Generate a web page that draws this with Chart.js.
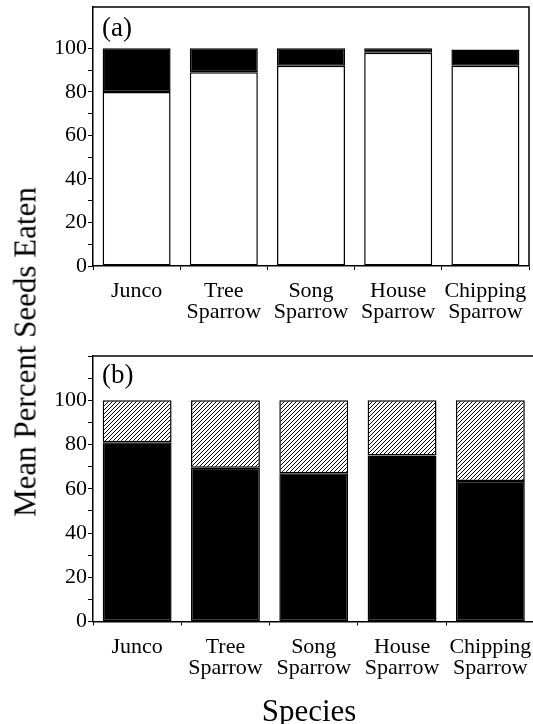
<!DOCTYPE html>
<html>
<head>
<meta charset="utf-8">
<script src="https://cdn.jsdelivr.net/npm/chart.js@4"></script>
<style>
  body { margin: 0; width: 533px; height: 724px; overflow: hidden; background: #fff; position: relative; font-family: "Liberation Serif", serif; }
  canvas { position: absolute; left: 0; }
  #chartA { top: 0; }
  #chartB { top: 330px; }
  .lbl { position: absolute; color: #000; line-height: 1; white-space: nowrap; }
  #yTitle { font-size: 31px; left: 25px; top: 352px; transform: translate(-50%, -50%) rotate(-90deg); }
  #xTitle { font-size: 31px; left: 309px; top: 710px; transform: translate(-50%, -50%); }
  #tagA { font-size: 27px; left: 102px; top: 14px; }
  #tagB { font-size: 27px; left: 102px; top: 361px; }
</style>
</head>
<body>
<canvas id="chartA" width="533" height="330"></canvas>
<canvas id="chartB" width="541" height="394"></canvas>
<div class="lbl" id="yTitle">Mean Percent Seeds Eaten</div>
<div class="lbl" id="xTitle">Species</div>
<div class="lbl" id="tagA">(a)</div>
<div class="lbl" id="tagB">(b)</div>
<script>
// Data
const species = ['Junco', ['Tree', 'Sparrow'], ['Song', 'Sparrow'], ['House', 'Sparrow'], ['Chipping', 'Sparrow']];
const panelA_lower = [80, 89, 92, 98, 92];
const panelA_upper = [20, 11, 8, 2, 7.5];
const panelB_lower = [81, 69.5, 67, 75, 63.5];
const panelB_upper = [19, 30.5, 33, 25, 36.5];

const serif = 'Liberation Serif';

// top and right edges of the plot box
const framePlugin = {
    id: 'frame',
    afterDraw(chart) {
        const { ctx, chartArea: a } = chart;
        ctx.save();
        ctx.strokeStyle = '#000';
        ctx.lineWidth = 1.5;
        ctx.beginPath();
        ctx.moveTo(a.left, a.top);
        ctx.lineTo(a.right, a.top);
        ctx.lineTo(a.right, a.bottom);
        ctx.stroke();
        ctx.restore();
    }
};

function hatchPattern() {
    const c = document.createElement('canvas');
    c.width = 4;
    c.height = 4;
    const g = c.getContext('2d');
    g.fillStyle = '#fff';
    g.fillRect(0, 0, 4, 4);
    g.strokeStyle = '#000';
    g.lineWidth = 1;
    g.beginPath();
    g.moveTo(0, 4); g.lineTo(4, 0);
    g.moveTo(-1, 1); g.lineTo(1, -1);
    g.moveTo(3, 5); g.lineTo(5, 3);
    g.stroke();
    return g.createPattern(c, 'repeat');
}

function yAxis(max) {
    return {
        stacked: true,
        min: 0,
        max: max,
        afterFit: s => { s.width = 93; s.paddingTop = 0; s.paddingBottom = 0; },
        afterBuildTicks: s => { s.ticks = s.ticks.filter(t => t.value % 10 === 0); },
        ticks: {
            stepSize: 10,
            autoSkip: false,
            padding: 1,
            color: '#000',
            font: { family: serif, size: 22 },
            callback: v => (v % 20 === 0 && v <= 100) ? v : ''
        },
        grid: { drawOnChartArea: false, drawTicks: true, tickLength: 5, color: '#000', lineWidth: 1 },
        border: { display: true, color: '#000', width: 1.5 }
    };
}

function xAxis(h) {
    return {
        stacked: true,
        afterFit: s => { s.height = h; s.paddingLeft = 0; s.paddingRight = 0; },
        ticks: {
            color: '#000',
            font: { family: serif, size: 22, lineHeight: 0.95 },
            padding: 11,
            maxRotation: 0,
            autoSkip: false
        },
        grid: { offset: true, drawOnChartArea: false, tickLength: 4, color: '#000', lineWidth: 1 },
        border: { color: '#000', width: 1.5 }
    };
}

function bar(values, fill) {
    return {
        data: values,
        backgroundColor: fill,
        borderColor: '#000',
        borderWidth: 1.5,
        borderSkipped: false,
        barPercentage: 0.78,
        categoryPercentage: 1.0
    };
}

const common = {
    responsive: false,
    animation: false,
    devicePixelRatio: 1,
    plugins: { legend: { display: false }, tooltip: { enabled: false } }
};

new Chart(document.getElementById('chartA'), {
    type: 'bar',
    data: {
        labels: species,
        datasets: [bar(panelA_lower, '#fff'), bar(panelA_upper, '#000')]
    },
    options: {
        ...common,
        layout: { padding: { top: 7, right: 4, left: 0, bottom: 0 } },
        scales: { x: xAxis(64), y: yAxis(119) }
    },
    plugins: [framePlugin]
});

new Chart(document.getElementById('chartB'), {
    type: 'bar',
    data: {
        labels: species,
        datasets: [bar(panelB_lower, '#000'), bar(panelB_upper, hatchPattern())]
    },
    options: {
        ...common,
        layout: { padding: { top: 26, right: 6.5, left: 0, bottom: 0 } },
        scales: { x: xAxis(102.5), y: yAxis(120) }
    },
    plugins: [framePlugin]
});
</script>
</body>
</html>
